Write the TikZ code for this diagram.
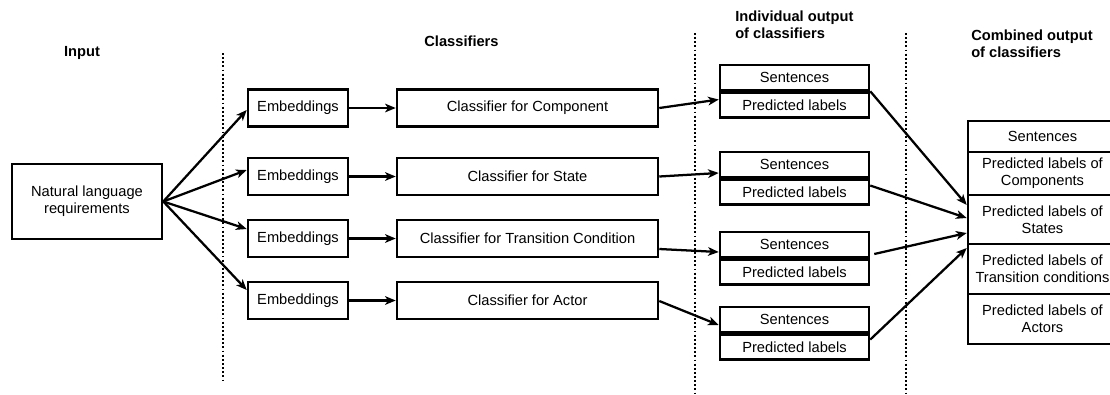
\documentclass[tikz,border=0pt]{standalone}
\usepackage{fontspec}
\setmainfont{Liberation Sans}
\usetikzlibrary{calc,arrows.meta}
\begin{document}
\begin{tikzpicture}[x=0.75pt,y=-0.75pt,
  box/.style={draw,line width=1.9pt,inner sep=0pt,align=center,font=\fontsize{11}{12.8}\selectfont},
  head/.style={inner sep=0pt,align=left,font=\fontsize{11}{13}\selectfont\bfseries},
  conn/.style={line width=1.7pt,-{Stealth[length=8pt,width=6.5pt,inset=2.2pt]}},
  sep/.style={line width=1.9pt,dash pattern=on 1.4pt off 1.7pt}]
\useasboundingbox (0,0) rectangle (1110,394);
% headings
\node[head] (hin) at (82,53) {Input};
\node[head] (hcl) at (461.5,41) {Classifiers};
\node[head,anchor=west] (hind) at (735,24.5) {Individual output\\of classifiers};
\node[head,anchor=west] (hcomb) at (971,43.5) {Combined output\\of classifiers};
% separators
\coordinate (d1a) at (223,53); \coordinate (d1b) at (223,383);
\coordinate (d2a) at (695,33); \coordinate (d2b) at (695,394);
\coordinate (d3a) at (906,33); \coordinate (d3b) at (906,394);
\draw[sep] (d1a) -- (d1b);
\draw[sep] (d2a) -- (d2b);
\draw[sep] (d3a) -- (d3b);
% input
\node[box,minimum width=112.5pt,minimum height=56.25pt] (nlr) at (87,201.5) {Natural language\\requirements};
% embeddings and classifiers
\foreach \i/\y/\t in {1/108/Component,2/176.5/State,3/238.5/Transition Condition,4/300.5/Actor}{
  \node[box,minimum width=75pt,minimum height=27.75pt] (e\i) at (298,\y) {Embeddings};
  \node[box,minimum width=195.75pt,minimum height=27.75pt] (c\i) at (527.5,\y) {Classifier for \t};
  \draw[conn] (e\i) -- (c\i);
}
% individual outputs
\foreach \i/\y in {1/77.5,2/164.5,3/244.5,4/319.5}{
  \node[box,minimum width=111.75pt,minimum height=18.75pt] (s\i) at (794.5,\y) {Sentences};
  \node[box,minimum width=111.75pt,minimum height=18.75pt,anchor=north] (p\i) at (s\i.south) {Predicted labels};
}
% combined output
\node[box,minimum width=111.75pt,minimum height=23.25pt] (cs) at (1042.5,136.5) {Sentences};
\node[box,minimum width=111.75pt,minimum height=32.25pt] (cc) at (1042.5,173.5) {Predicted labels of\\Components};
\node[box,minimum width=111.75pt,minimum height=36.75pt] (cst) at (1042.5,219.5) {Predicted labels of\\States};
\node[box,minimum width=111.75pt,minimum height=37.5pt] (ctr) at (1042.5,269) {Predicted labels of\\Transition conditions};
\node[box,minimum width=111.75pt,minimum height=37.5pt] (cac) at (1042.5,319) {Predicted labels of\\Actors};
% input to embeddings
\draw[conn] (nlr.east) -- ($(e1.west)+(0,2)$);
\draw[conn] (nlr.east) -- ($(e2.west)+(0,-6.5)$);
\draw[conn] (nlr.east) -- ($(e3.west)+(0,-9.5)$);
\draw[conn] (nlr.east) -- ($(e4.west)+(0,-10.5)$);
% classifiers to individual outputs
\draw[conn] (c1.east) -- ($(p1.west)+(0,-5.5)$);
\draw[conn] (c2.east) -- ($(s2.west)+(0,8.5)$);
\draw[conn] ($(c3.east)+(0,10.5)$) -- ($(s3.west)+(0,7.5)$);
\draw[conn] ($(c4.east)+(0,0.5)$) -- ($(s4.west)+(0,5.5)$);
% individual to combined
\draw[conn] (s1.south east) -- ($(cst.west)+(0,-14.5)$);
\draw[conn] ($(p2.east)+(0,-6.5)$) -- ($(cst.west)+(0,-1.5)$);
\draw[conn] ($(s3.east)+(4,9.5)$) -- ($(cst.west)+(0,13.5)$);
\draw[conn] ($(p4.east)+(0,-7.5)$) -- ($(ctr.west)+(0,-21)$);
\end{tikzpicture}
\end{document}
